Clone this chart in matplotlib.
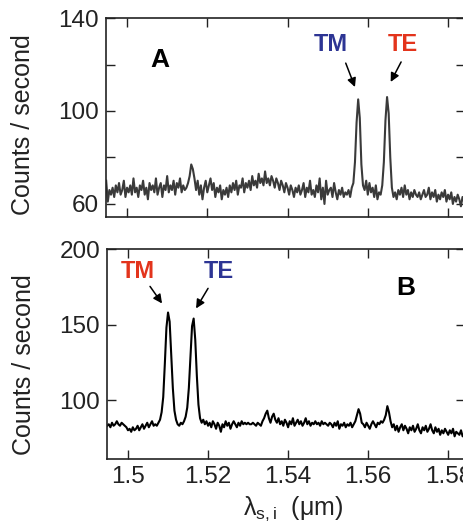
import numpy as np
import matplotlib
matplotlib.use('Agg')
from matplotlib import pyplot as plt

plt.rcParams['font.family'] = ['Liberation Sans', 'DejaVu Sans']
plt.rcParams['mathtext.fontset'] = 'custom'
plt.rcParams['mathtext.rm'] = 'Liberation Sans'
plt.rcParams['mathtext.it'] = 'Liberation Sans'

# Wavelength grid (um)
wl_start, wl_stop = 1.4948, 1.5844

# Panel A counts / second
counts_a = [
    70, 61, 66, 64, 67, 63, 68, 65, 69, 64,
    66, 70, 63, 67, 65, 68, 64, 71, 65, 67,
    63, 68, 66, 70, 64, 67, 62, 69, 66, 68,
    65, 71, 64, 67, 69, 63, 68, 66, 72, 65,
    68, 66, 70, 64, 69, 67, 71, 65, 68, 66,
    67, 69, 72, 77, 75, 71, 66, 70, 64, 68,
    62, 67, 70, 65, 68, 71, 66, 69, 63, 67,
    65, 68, 62, 66, 64, 67, 63, 68, 65, 69,
    66, 70, 64, 68, 67, 71, 65, 69, 67, 70,
    66, 72, 68, 70, 67, 73, 69, 71, 68, 74,
    69, 71, 68, 72, 70, 67, 71, 69, 66, 70,
    68, 65, 69, 67, 64, 68, 66, 63, 67, 65,
    68, 64, 66, 69, 63, 67, 65, 70, 64, 66,
    63, 68, 65, 71, 62, 67, 60, 70, 64, 66,
    67, 63, 69, 65, 62, 66, 64, 67, 63, 65,
    64, 66, 63, 67, 69, 78, 95, 105, 97, 77,
    68, 66, 70, 64, 69, 65, 67, 63, 68, 62,
    65, 64, 68, 78, 96, 106, 99, 80, 67, 63,
    65, 62, 66, 64, 67, 63, 68, 64, 66, 62,
    65, 63, 66, 64, 63, 65, 62, 64, 66, 63,
    64, 67, 62, 65, 63, 66, 61, 64, 62, 65,
    63, 66, 61, 64, 62, 65, 60, 63, 61, 64,
    62, 59, 63, 61, 60,
]

# Panel B counts / second
counts_b = [
    83, 84, 82, 85, 83, 84, 86, 84, 83, 85,
    84, 83, 82, 80, 81, 79, 82, 80, 81, 83,
    80, 82, 84, 81, 83, 85, 82, 84, 86, 83,
    84, 83, 85, 87, 92, 102, 124, 148, 158, 152,
    130, 108, 93, 87, 84, 83, 85, 84, 86, 89,
    95, 108, 128, 149, 154, 140, 116, 97, 88, 85,
    87, 84, 86, 83, 85, 82, 86, 84, 81, 85,
    83, 79, 84, 82, 86, 83, 85, 81, 84, 86,
    84, 82, 85, 83, 86, 84, 85, 84, 85, 84,
    84, 85, 84, 83, 85, 84, 83, 86, 88, 91,
    93, 88, 85, 89, 91, 87, 85, 88, 84, 86,
    83, 87, 85, 82, 86, 84, 88, 83, 85, 87,
    84, 86, 83, 85, 88, 84, 86, 83, 85, 84,
    86, 84, 85, 83, 86, 84, 85, 84, 83, 85,
    84, 82, 85, 83, 86, 81, 84, 83, 85, 82,
    84, 83, 85, 82, 84, 86, 90, 94, 91, 85,
    84, 82, 85, 83, 81, 84, 86, 84, 82, 85,
    84, 86, 85, 87, 90, 96, 92, 86, 82, 84,
    80, 83, 79, 82, 84, 80, 83, 81, 78, 82,
    80, 83, 79, 81, 84, 80, 78, 82, 80, 83,
    79, 81, 84, 80, 78, 82, 79, 81, 77, 80,
    78, 81, 79, 77, 80, 78, 81, 76, 79, 78,
    77, 80, 76, 78, 77,
]

xticks = [1.5, 1.52, 1.54, 1.56, 1.58]
xtick_labels = ['1.5', '1.52', '1.54', '1.56', '1.58']
yticks_a = [60, 80, 100, 120, 140]
ytick_labels_a = ['60', '', '100', '', '140']
yticks_b = [100, 150, 200]
ytick_labels_b = ['100', '150', '200']

blue = '#2d3594'
red = '#e3341c'

wl_a = np.linspace(wl_start, wl_stop, len(counts_a))
wl_b = np.linspace(wl_start, wl_stop, len(counts_b))

fig = plt.figure(figsize=(4.64, 5.30), dpi=100)
ax_a = fig.add_axes([0.2284, 0.5906, 0.774, 0.3754])
ax_b = fig.add_axes([0.2306, 0.134, 0.772, 0.396])

ax_a.plot(wl_a, counts_a, color='#3a3a3a', lw=1.5)
ax_b.plot(wl_b, counts_b, color='black', lw=1.5)

for ax in (ax_a, ax_b):
    ax.set_xlim(1.49475, 1.58425)
    ax.set_xticks(xticks)
    ax.tick_params(direction='in', length=6.5, width=1, labelsize=17.5,
                   top=True, right=True, pad=5, colors='#222222')
    for s in ax.spines.values():
        s.set_linewidth(1.2)
        s.set_color('#222222')

ax_a.set_ylim(54.4, 140)
ax_a.set_yticks(yticks_a, labels=ytick_labels_a)
ax_a.set_xticklabels([])
ax_b.set_ylim(61, 200)
ax_b.set_yticks(yticks_b, labels=ytick_labels_b)
ax_b.set_xticklabels(xtick_labels)

ax_a.set_ylabel('Counts / second', fontsize=18, color='#222222')
ax_a.yaxis.set_label_coords(-0.197, 0.465)
ax_b.set_ylabel('Counts / second', fontsize=18, color='#222222')
ax_b.yaxis.set_label_coords(-0.197, 0.45)
ax_b.set_xlabel(r'λ$_{\mathregular{s,i}}$  (μm)', fontsize=18, color='#222222')
ax_b.xaxis.set_label_coords(0.52, -0.17)

# Panel letters and peak labels
ax_a.text(1.5082, 122, 'A', fontsize=19, fontweight='bold', ha='center', va='center')
ax_b.text(1.5695, 174, 'B', fontsize=19, fontweight='bold', ha='center', va='center')

arrow = dict(arrowstyle='-|>', color='black', lw=1.1, mutation_scale=13, shrinkA=0, shrinkB=0)
ax_a.text(1.5507, 128.4, 'TM', color=blue, fontsize=17, fontweight='bold', ha='center', va='center')
ax_a.text(1.5688, 128.4, 'TE', color=red, fontsize=17, fontweight='bold', ha='center', va='center')
ax_a.annotate('', xy=(1.5568, 110.3), xytext=(1.5545, 120.6), arrowprops=arrow)
ax_a.annotate('', xy=(1.5657, 112.5), xytext=(1.5683, 121.1), arrowprops=arrow)

ax_b.text(1.5025, 185.3, 'TM', color=red, fontsize=17, fontweight='bold', ha='center', va='center')
ax_b.text(1.5228, 185.3, 'TE', color=blue, fontsize=17, fontweight='bold', ha='center', va='center')
ax_b.annotate('', xy=(1.5085, 164), xytext=(1.5055, 175.3), arrowprops=arrow)
ax_b.annotate('', xy=(1.517, 160.7), xytext=(1.520, 174), arrowprops=arrow)

plt.savefig('out.png', dpi=100)
